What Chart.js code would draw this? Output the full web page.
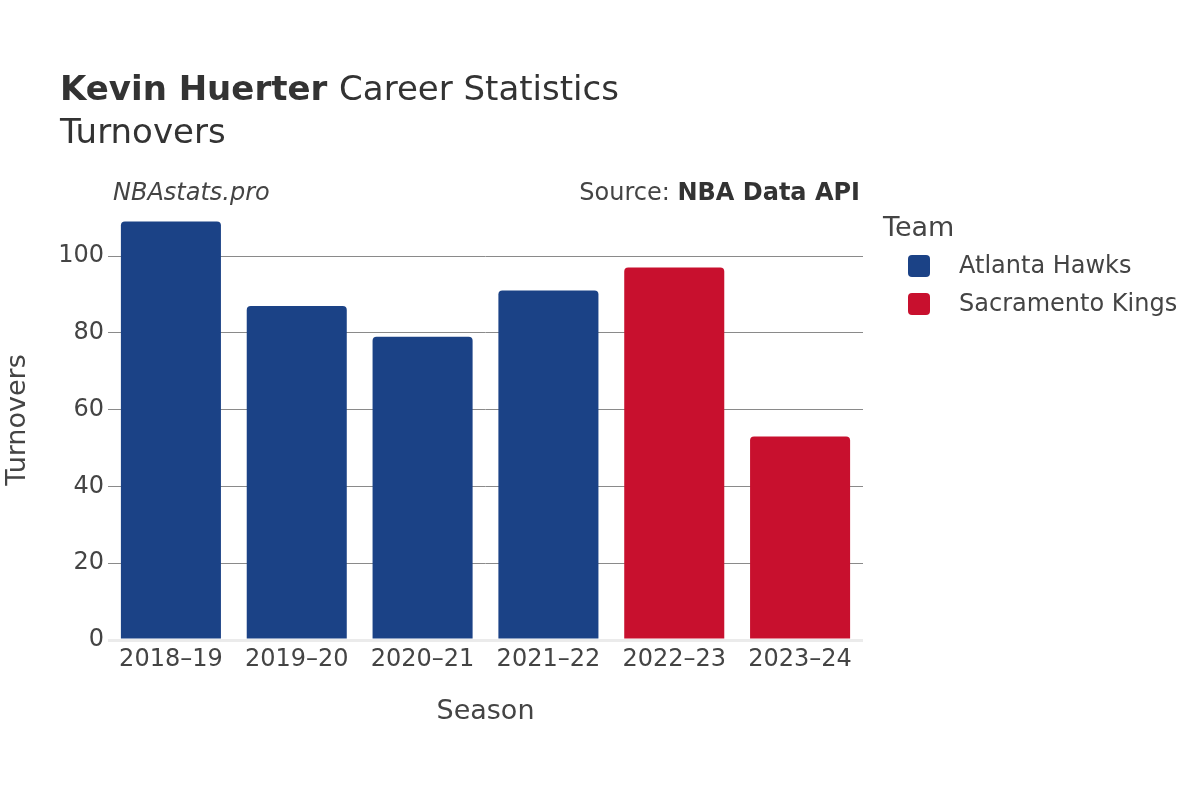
<!DOCTYPE html>
<html>
<head>
<meta charset="utf-8">
<script src="https://cdn.jsdelivr.net/npm/chart.js@4"></script>
<style>
    html, body { margin: 0; padding: 0; background: #ffffff; }
    #wrap { width: 1200px; height: 800px; }
</style>
</head>
<body>
<div id="wrap"><canvas id="turnoverChart" width="1200" height="800"></canvas></div>
<script>
const seasons = ["2018–19", "2019–20", "2020–21", "2021–22", "2022–23", "2023–24"];

const hawksTurnovers = [109, 87, 79, 91, null, null];
const kingsTurnovers = [null, null, null, null, 97, 53];

const teamNames = ["Atlanta Hawks", "Sacramento Kings"];
const teamColors = ["#1b4286", "#c8102e"];

const yTicks = [0, 20, 40, 60, 80, 100];

const FONT = "'DejaVu Sans', Verdana, sans-serif";

// titles, source line and legend are painted by hand
const decorations = {
    id: "decorations",
    afterDraw(chart) {
        const c = chart.ctx;
        c.save();
        c.textBaseline = "alphabetic";
        c.fillStyle = "#333333";

        c.font = "bold 34px " + FONT;
        c.textAlign = "left";
        c.fillText("Kevin Huerter", 60, 100);
        const w = c.measureText("Kevin Huerter ").width;
        c.font = "34px " + FONT;
        c.fillText("Career Statistics", 60 + w, 100);

        c.font = "34px " + FONT;
        c.fillText("Turnovers", 60, 143);

        c.font = "italic 24px " + FONT;
        c.fillStyle = "#444444";
        c.fillText("NBAstats.pro", 113, 200);

        c.textAlign = "right";
        c.font = "bold 24px " + FONT;
        c.fillStyle = "#333333";
        const api = "NBA Data API";
        c.fillText(api, 860, 200);
        const apiW = c.measureText(api).width;
        c.font = "24px " + FONT;
        c.fillStyle = "#444444";
        c.fillText("Source: ", 860 - apiW, 200);

        // legend
        c.textAlign = "left";
        c.font = "27px " + FONT;
        c.fillStyle = "#444444";
        c.fillText("Team", 883, 236);

        chart.data.datasets.forEach((ds, i) => {
            const y = 266 + i * 38;
            c.fillStyle = ds.backgroundColor;
            c.beginPath();
            c.roundRect(908, y - 11, 22, 22, 4);
            c.fill();
            c.fillStyle = "#444444";
            c.font = "24px " + FONT;
            c.textBaseline = "middle";
            c.fillText(ds.label, 959, y + 1);
            c.textBaseline = "alphabetic";
        });

        c.restore();
    }
};

const ctx = document.getElementById("turnoverChart").getContext("2d");

new Chart(ctx, {
    type: "bar",
    data: {
        labels: seasons,
        datasets: [
            {
                label: teamNames[0],
                data: hawksTurnovers,
                backgroundColor: teamColors[0],
                borderRadius: 4,
                borderSkipped: "start"
            },
            {
                label: teamNames[1],
                data: kingsTurnovers,
                backgroundColor: teamColors[1],
                borderRadius: 4,
                borderSkipped: "start"
            }
        ]
    },
    options: {
        responsive: false,
        animation: false,
        skipNull: true,
        categoryPercentage: 1,
        barPercentage: 0.795,
        layout: {
            padding: { left: 0, top: 200, right: 337, bottom: 0 }
        },
        plugins: {
            legend: { display: false },
            tooltip: { enabled: false }
        },
        scales: {
            x: {
                grid: { display: false },
                border: { display: false },
                ticks: {
                    color: "#444444",
                    font: { family: FONT, size: 24 },
                    padding: -3,
                    maxRotation: 0
                },
                title: {
                    display: true,
                    text: "Season",
                    color: "#444444",
                    font: { family: FONT, size: 27 },
                    padding: { top: 0, bottom: 72 }
                },
                afterFit(scale) { scale.height = 160; }
            },
            y: {
                min: 0,
                max: 114.6,
                afterBuildTicks(axis) {
                    axis.ticks = yTicks.map(v => ({ value: v }));
                },
                grid: {
                    drawTicks: false,
                    color: c => c.tick && c.tick.value === 0 ? "#ebebeb" : "#8a8a8a",
                    lineWidth: c => c.tick && c.tick.value === 0 ? 3 : 1
                },
                border: { display: false },
                ticks: {
                    color: "#444444",
                    font: { family: FONT, size: 24 },
                    padding: 4
                },
                title: {
                    display: true,
                    text: "Turnovers",
                    color: "#444444",
                    font: { family: FONT, size: 27 },
                    padding: { top: 2, bottom: 0 }
                },
                afterFit(scale) { scale.width = 108; }
            }
        }
    },
    plugins: [decorations]
});
</script>
</body>
</html>
